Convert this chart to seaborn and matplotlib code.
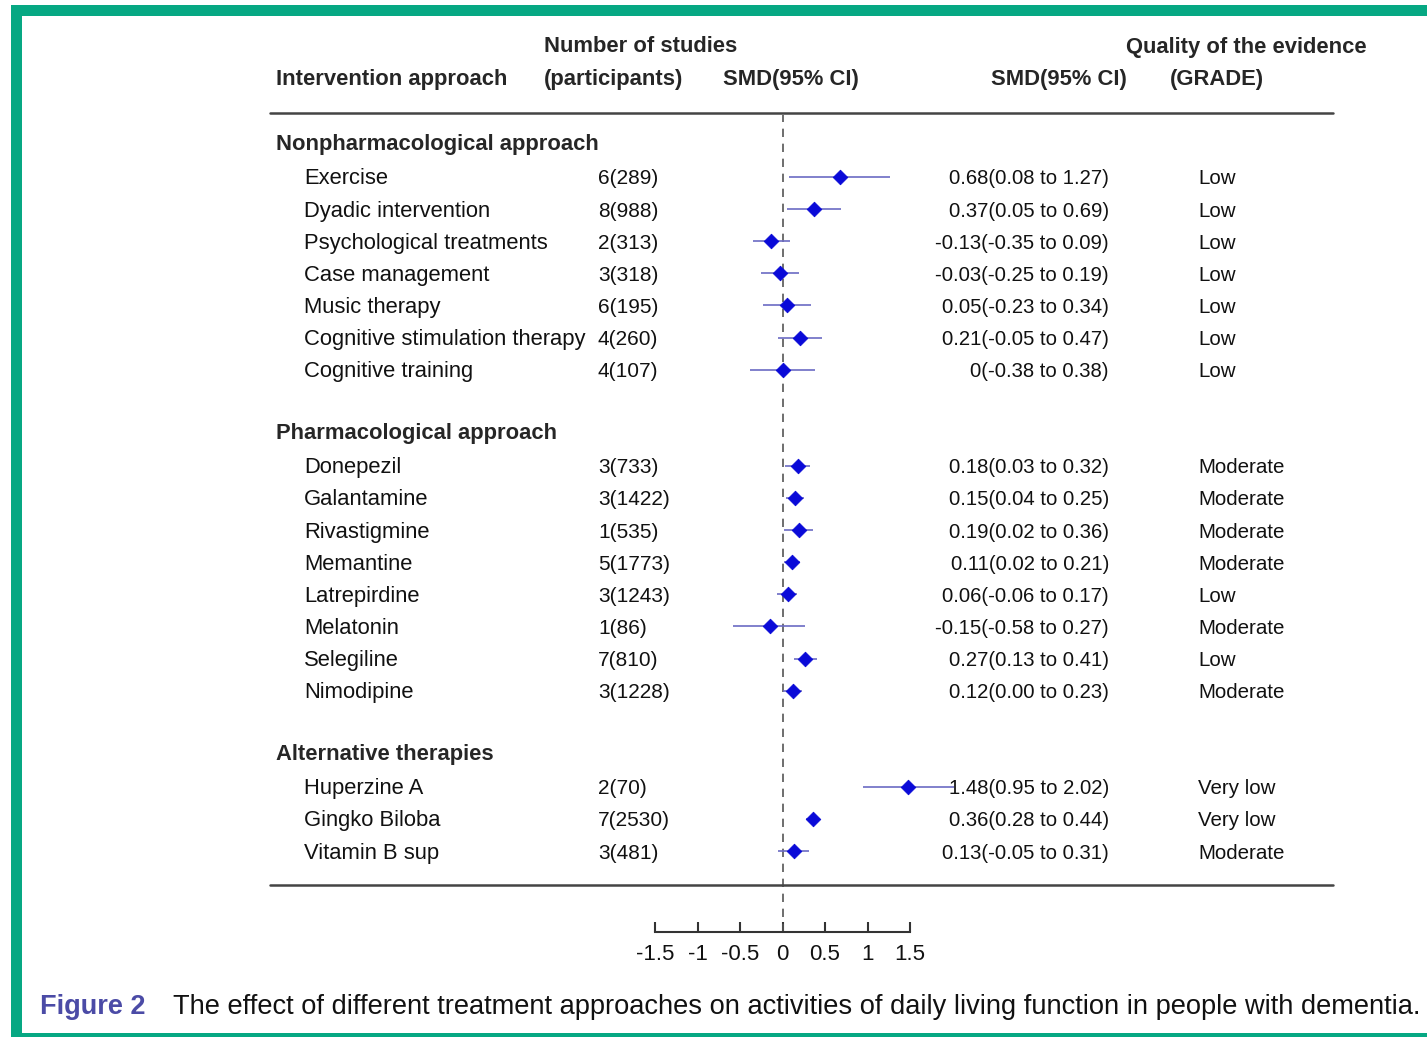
import numpy as np
import pandas as pd
import matplotlib
matplotlib.use('Agg')
import matplotlib.pyplot as plt
import matplotlib.transforms as mtransforms
from matplotlib.lines import Line2D
from matplotlib.patches import Rectangle
import seaborn as sns

# Data
groups = ['Nonpharmacological approach', 'Pharmacological approach', 'Alternative therapies']
group_sizes = [7, 8, 3]
interventions = ['Exercise', 'Dyadic intervention', 'Psychological treatments', 'Case management',
                 'Music therapy', 'Cognitive stimulation therapy', 'Cognitive training',
                 'Donepezil', 'Galantamine', 'Rivastigmine', 'Memantine', 'Latrepirdine',
                 'Melatonin', 'Selegiline', 'Nimodipine',
                 'Huperzine A', 'Gingko Biloba', 'Vitamin B sup']
n_studies = ['6(289)', '8(988)', '2(313)', '3(318)', '6(195)', '4(260)', '4(107)',
             '3(733)', '3(1422)', '1(535)', '5(1773)', '3(1243)', '1(86)', '7(810)', '3(1228)',
             '2(70)', '7(2530)', '3(481)']
smd = [0.68, 0.37, -0.13, -0.03, 0.05, 0.21, 0,
       0.18, 0.15, 0.19, 0.11, 0.06, -0.15, 0.27, 0.12,
       1.48, 0.36, 0.13]
ci_low = [0.08, 0.05, -0.35, -0.25, -0.23, -0.05, -0.38,
          0.03, 0.04, 0.02, 0.02, -0.06, -0.58, 0.13, 0.00,
          0.95, 0.28, -0.05]
ci_high = [1.27, 0.69, 0.09, 0.19, 0.34, 0.47, 0.38,
           0.32, 0.25, 0.36, 0.21, 0.17, 0.27, 0.41, 0.23,
           2.02, 0.44, 0.31]
ci_text = ['0.68(0.08 to 1.27)', '0.37(0.05 to 0.69)', '-0.13(-0.35 to 0.09)', '-0.03(-0.25 to 0.19)',
           '0.05(-0.23 to 0.34)', '0.21(-0.05 to 0.47)', '0(-0.38 to 0.38)',
           '0.18(0.03 to 0.32)', '0.15(0.04 to 0.25)', '0.19(0.02 to 0.36)', '0.11(0.02 to 0.21)',
           '0.06(-0.06 to 0.17)', '-0.15(-0.58 to 0.27)', '0.27(0.13 to 0.41)', '0.12(0.00 to 0.23)',
           '1.48(0.95 to 2.02)', '0.36(0.28 to 0.44)', '0.13(-0.05 to 0.31)']
grade = ['Low', 'Low', 'Low', 'Low', 'Low', 'Low', 'Low',
         'Moderate', 'Moderate', 'Moderate', 'Moderate', 'Low', 'Moderate', 'Low', 'Moderate',
         'Very low', 'Very low', 'Moderate']
xticks = [-1.5, -1, -0.5, 0, 0.5, 1, 1.5]
xtick_labels = ['-1.5', '-1', '-0.5', '0', '0.5', '1', '1.5']

# Row positions: one header row per group, a blank row between groups
rows, header_rows = [], []
r = -1
for size in group_sizes:
    header_rows.append(r)
    rows.extend(range(r + 1, r + 1 + size))
    r += size + 2

df = pd.DataFrame({'name': interventions, 'n': n_studies, 'smd': smd,
                   'lo': ci_low, 'hi': ci_high, 'ci': ci_text, 'grade': grade, 'row': rows})

sns.set_theme(style='white')
plt.rcParams['font.family'] = ['Liberation Sans', 'DejaVu Sans']

W, H = 1427, 1037
fig = plt.figure(figsize=(W / 100, H / 100), dpi=100)

def fx(px):
    return px / W

def fy(py):
    return 1 - py / H

# frame
fig.add_artist(Rectangle((fx(11), 0), fx(W - 11), fy(5), transform=fig.transFigure,
                         facecolor='#06a883', edgecolor='none', zorder=-2))
fig.add_artist(Rectangle((fx(22), fy(1033)), fx(W - 22), fy(16) - fy(1033),
                         transform=fig.transFigure, facecolor='white', edgecolor='none', zorder=-1))

# forest axes: x from -1.5 (px 655) to 1.5 (px 910)
ax_top, ax_bot = 115, 932
ax = fig.add_axes([fx(655), fy(ax_bot), fx(910) - fx(655), fy(ax_top) - fy(ax_bot)])
ax.set_facecolor('none')
ax.set_xlim(-1.5, 1.5)
ax.set_ylim((ax_bot - 177) / 32.1, (ax_top - 177) / 32.1)

ax.hlines(df['row'], df['lo'], df['hi'], color='#6b6bc4', lw=1.2, clip_on=False, zorder=2)
sns.scatterplot(data=df, x='smd', y='row', marker='D', s=55, color='#0a0ad8',
                edgecolor='#0a0ad8', ax=ax, zorder=3, clip_on=False, legend=False)
ax.axvline(0, color='#555555', lw=1.2, ls=(0, (5, 4)), zorder=1)

for side in ['top', 'right', 'left']:
    ax.spines[side].set_visible(False)
ax.spines['bottom'].set_color('#333333')
ax.spines['bottom'].set_linewidth(1.5)
ax.set_xticks(xticks)
ax.set_xticklabels(xtick_labels)
ax.set_yticks([])
ax.tick_params(axis='x', bottom=True, direction='in', length=7, width=1.5, color='#333333',
               labelsize=16, pad=9, labelcolor='#111111')
ax.set_xlabel('')
ax.set_ylabel('')

# text columns
tr = mtransforms.blended_transform_factory(fig.transFigure, ax.transData)
for g, hr in zip(groups, header_rows):
    ax.text(fx(276), hr, g, transform=tr, fontsize=15.8, fontweight='bold', va='center', ha='left')
for _, row in df.iterrows():
    y = row['row'] + 0.06
    ax.text(fx(304), y, row['name'], transform=tr, fontsize=15.8, va='center', ha='left',
            color='#111111')
    ax.text(fx(598), y, row['n'], transform=tr, fontsize=15.0, va='center', ha='left',
            color='#111111')
    ax.text(fx(1109), y, row['ci'], transform=tr, fontsize=14.6, va='center', ha='right',
            color='#111111')
    ax.text(fx(1198), y, row['grade'], transform=tr, fontsize=14.8, va='center', ha='left',
            color='#111111')

# column headers
hdr = dict(fontsize=15.8, fontweight='bold', va='center', ha='left')
fig.text(fx(276), fy(80), 'Intervention approach', **hdr)
fig.text(fx(544), fy(47), 'Number of studies', **hdr)
fig.text(fx(544), fy(80), '(participants)', **hdr)
fig.text(fx(723), fy(80), 'SMD(95% CI)', **hdr)
fig.text(fx(991), fy(80), 'SMD(95% CI)', **hdr)
fig.text(fx(1126), fy(47), 'Quality of the evidence', **hdr)
fig.text(fx(1170), fy(80), '(GRADE)', **hdr)

# rules
for py in [113, 885]:
    fig.add_artist(Line2D([fx(270), fx(1333)], [fy(py), fy(py)], transform=fig.transFigure,
                          color='#444444', lw=1.8))

# caption
fig.text(fx(40), fy(1007), 'Figure 2', fontsize=19.5, fontweight='bold', color='#4b4ba6',
         va='center', ha='left')
fig.text(fx(173), fy(1007),
         'The effect of different treatment approaches on activities of daily living function in people with dementia.',
         fontsize=19.6, color='#111111', va='center', ha='left')

fig.savefig('out.png', dpi=100)
